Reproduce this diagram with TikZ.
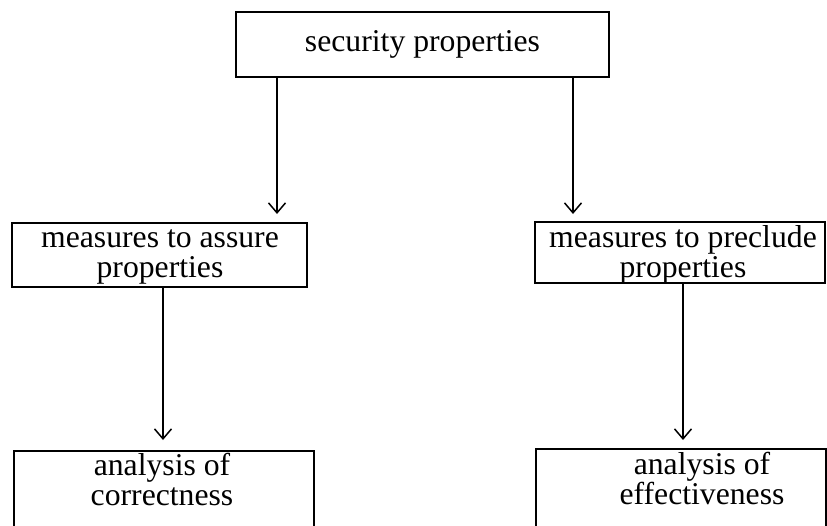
\documentclass[tikz,border=0pt]{standalone}
\usepackage{fontspec}
\setmainfont{Liberation Serif}
\usetikzlibrary{arrows.meta}
\tikzset{
  box/.style={draw, line width=1.8pt, align=center, inner sep=0pt},
  txt/.style={align=center, inner sep=0pt, font=\fontsize{31.7}{30}\selectfont},
  flow/.style={line width=1.5pt, -{Straight Barb[length=10pt,width=17pt,line width=1.5pt]}},
}
\begin{document}
\begin{tikzpicture}[x=1pt,y=-1pt]
	\useasboundingbox (0,0) rectangle (827,525);
	\clip (0,0) rectangle (827,525);
	
	\node[box, txt, minimum width=373, minimum height=65] (sec) at (422.5,44.5) {security properties};
	
	\node[box, minimum width=295, minimum height=64] (assure) at (159.5,255) {};
	\node[txt] (assuret) at (160,257) {measures to assure\\properties};
	\node[box, minimum width=290, minimum height=61] (preclude) at (680,252.5) {};
	\node[txt] (precludet) at (683,255) {measures to preclude\\properties};
	
	\node[box, minimum width=300, minimum height=100, anchor=north west] (corr) at (13,450) {};
	\node[txt, anchor=north] (corrt) at (162,453) {analysis of\\correctness};
	\node[box, minimum width=290, minimum height=100, anchor=north west] (eff) at (535,448) {};
	\node[txt, anchor=north] (efft) at (702,452) {analysis of\\effectiveness};
	
	\coordinate (a1) at (277,214);
	\coordinate (a2) at (573,214);
	\coordinate (a3) at (163,440);
	\coordinate (a4) at (683,440);
	\draw[flow] (sec.south -| a1) -- (a1);
	\draw[flow] (sec.south -| a2) -- (a2);
	\draw[flow] (assure.south -| a3) -- (a3);
	\draw[flow] (preclude.south -| a4) -- (a4);
\end{tikzpicture}
\end{document}
